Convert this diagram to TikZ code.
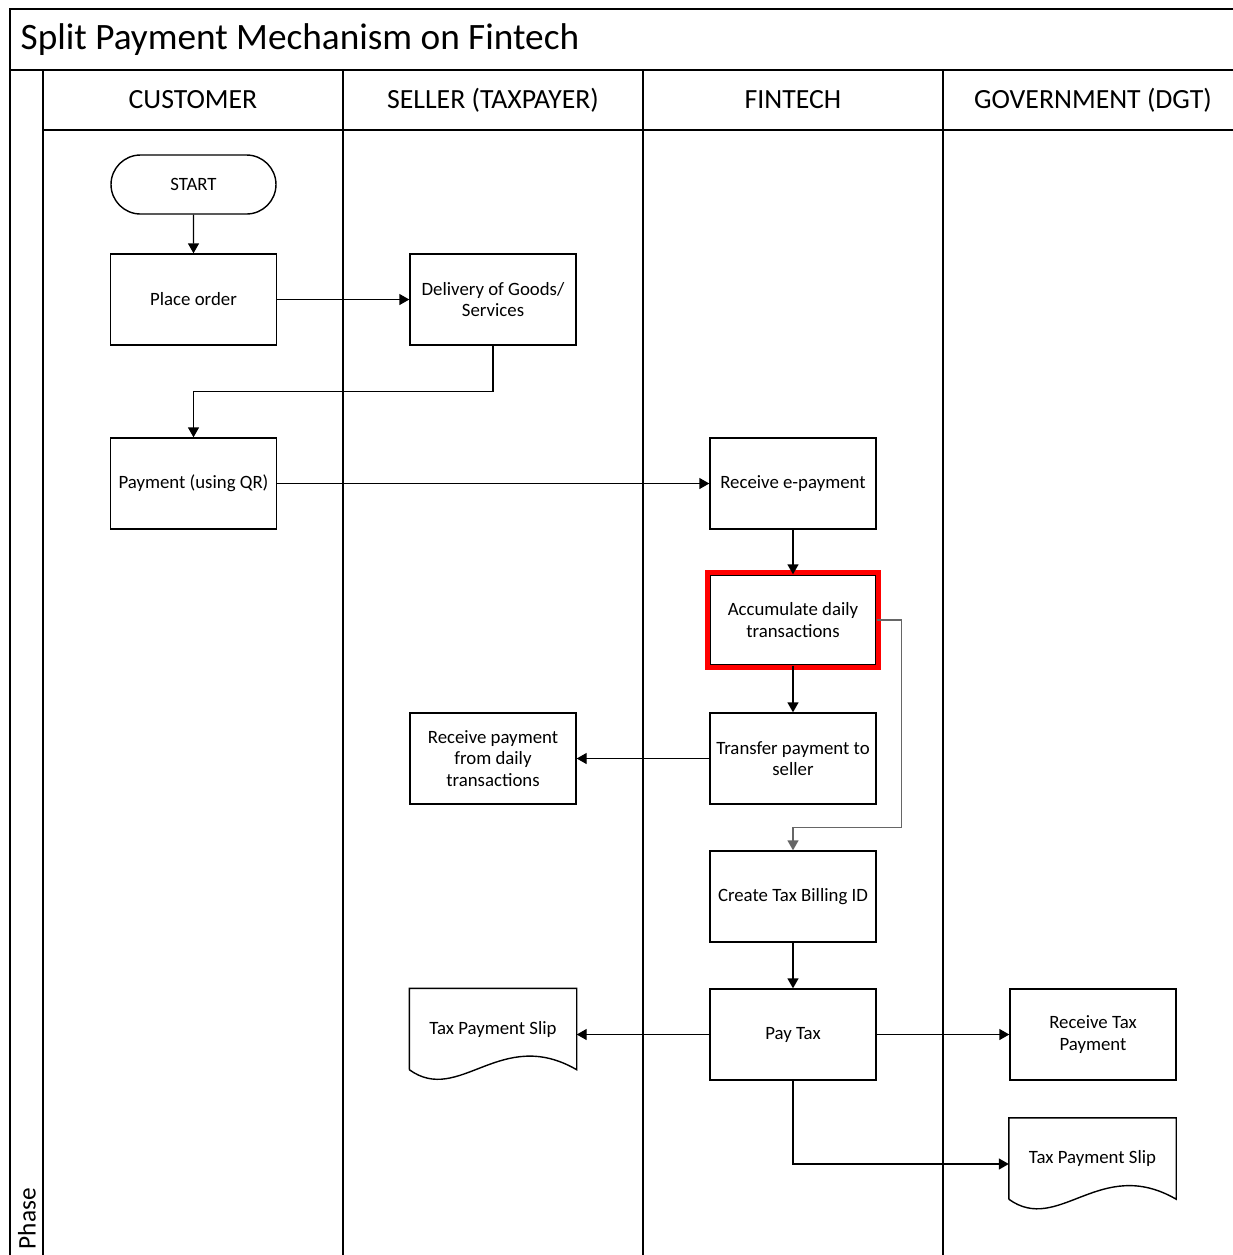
\documentclass[tikz,border=0pt]{standalone}
\usepackage{fontspec}
\setmainfont{Carlito}
\usetikzlibrary{arrows.meta, positioning, shapes.misc}
\definecolor{hilite}{HTML}{FF0000}
\definecolor{dark}{HTML}{000000}
\tikzstyle{proc}  = [rectangle, draw=dark, line width=0.4pt, minimum width=1.66cm,
                     minimum height=0.91cm, align=center, inner sep=1pt,
                     font=\fontsize{5.35}{6.1}\selectfont]
\tikzstyle{term}  = [rounded rectangle, draw=dark, line width=0.4pt, minimum width=1.72cm,
                     minimum height=0.59cm, inner sep=1pt, font=\fontsize{5.35}{6.1}\selectfont]
\tikzstyle{doc}   = [rectangle, minimum width=1.66cm, minimum height=0.80cm, align=center,
                     inner sep=1pt, font=\fontsize{5.35}{6.1}\selectfont]
\tikzstyle{arrow} = [-{Triangle[length=1.0mm, width=1.1mm]}, line width=0.4pt, color=dark]
\tikzstyle{frame} = [line width=0.6pt, color=dark]
\tikzstyle{lanehead} = [font=\fontsize{7.9}{9}\selectfont, inner sep=0pt]
% wavy bottom for the document shape
\newcommand{\docframe}[1]{%
  \draw[line width=0.4pt, color=dark] (#1.south west) -- (#1.north west) -- (#1.north east)
    -- (#1.south east) .. controls ([xshift=-0.76cm,yshift=0.44cm]#1.south east)
    and ([xshift=0.50cm,yshift=-0.36cm]#1.south west) .. (#1.south west);}

\begin{document}
\begin{tikzpicture}
  \useasboundingbox (0,0) rectangle (12.33,-12.55);

  %% pool frame
  \draw[frame] (0.10,-12.55) -- (0.10,-0.09) -- (12.33,-0.09);
  \draw[frame] (0.10,-0.70) -- (12.33,-0.70);
  \draw[frame] (0.43,-0.70) -- (0.43,-12.55);
  \draw[frame] (0.43,-1.30) -- (12.33,-1.30);
  \foreach \x in {3.43,6.43,9.43}
    \draw[frame] (\x,-0.70) -- (\x,-12.55);

  \node[anchor=west, inner sep=0pt, font=\fontsize{10.6}{12}\selectfont] (title)
    at (0.20,-0.40) {Split Payment Mechanism on Fintech};
  \node[rotate=90, anchor=west, inner sep=0pt, font=\fontsize{7.2}{9}\selectfont] (phase)
    at (0.27,-12.50) {Phase};

  %% lane headers
  \node[lanehead] (hcust) at (1.93,-1.00) {CUSTOMER};
  \node[lanehead] (hsell) at (4.93,-1.00) {SELLER (TAXPAYER)};
  \node[lanehead] (hfin)  at (7.93,-1.00) {FINTECH};
  \node[lanehead] (hgov)  at (10.93,-1.00) {GOVERNMENT (DGT)};

  %% customer
  \node[term] (start) at (1.935,-1.845) {START};
  \node[proc] (order) at (1.935,-2.995) {Place order};
  \node[proc] (pay)   at (1.935,-4.835) {Payment (using QR)};

  %% seller
  \node[proc] (deliver) at (4.93,-2.995) {Delivery of Goods/\\Services};
  \node[proc] (rcvpay)  at (4.93,-7.585) {Receive payment\\from daily\\transactions};
  \node[doc]  (slipA)   at (4.93,-10.29) {Tax Payment Slip};
  \docframe{slipA}

  %% fintech
  \node[proc] (recv) at (7.93,-4.835) {Receive e-payment};
  \node[proc, minimum height=0.90cm] (accum) at (7.93,-6.20) {Accumulate daily\\transactions};
  \draw[hilite, line width=1.4pt] ([shift={(-0.02,0.02)}]accum.north west)
    rectangle ([shift={(0.02,-0.02)}]accum.south east);
  \node[proc] (transfer) at (7.93,-7.585) {Transfer payment to\\seller};
  \node[proc] (billing)  at (7.93,-8.965) {Create Tax Billing ID};
  \node[proc] (paytax)   at (7.93,-10.345) {Pay Tax};

  %% government
  \node[proc] (taxrcv) at (10.93,-10.345) {Receive Tax\\Payment};
  \node[doc]  (slipB)  at (10.925,-11.585) {Tax Payment Slip};
  \docframe{slipB}

  %% arrows
  \draw[arrow] (start) -- (order);
  \draw[arrow] (order) -- (deliver);
  \draw[arrow] (deliver.south) -- ++(0,-0.46) -| (pay.north);
  \draw[arrow] (pay) -- (recv);
  \draw[arrow] (recv) -- (accum);
  \draw[arrow] (accum) -- (transfer);
  \draw[arrow, color=dark!60] (accum.east) -- ++(0.25,0)
    |- ([yshift=0.23cm]billing.north) -- (billing.north);
  \draw[arrow] (transfer) -- (rcvpay);
  \draw[arrow] (billing) -- (paytax);
  \draw[arrow] (paytax.west) -- (paytax.west -| slipA.east);
  \draw[arrow] (paytax) -- (taxrcv);
  \draw[arrow] (paytax.south) |- ([yshift=-0.055cm]slipB.west);

\end{tikzpicture}
\end{document}
